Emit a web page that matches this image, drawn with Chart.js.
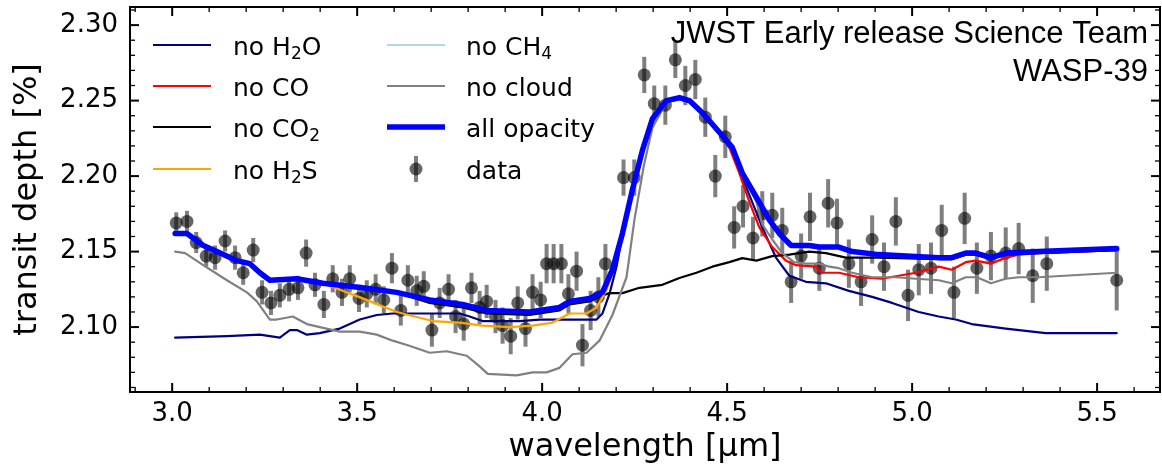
<!DOCTYPE html>
<html>
<head>
<meta charset="utf-8">
<script src="https://cdn.jsdelivr.net/npm/chart.js@4.4.0/dist/chart.umd.min.js"></script>
<style>
  html, body { margin: 0; padding: 0; background: #fff; overflow: hidden; }
  canvas { display: block; }
</style>
</head>
<body>
<canvas id="spec" width="1162" height="472"></canvas>
<script>
// ticks
var xTicks = [3.0, 3.5, 4.0, 4.5, 5.0, 5.5];
var yTicks = [2.10, 2.15, 2.20, 2.25, 2.30];

// observed spectrum
var dataWave = [3.011, 3.040, 3.065, 3.092, 3.116, 3.143, 3.170, 3.192, 3.219, 3.243,
  3.267, 3.291, 3.316, 3.340, 3.362, 3.386, 3.410, 3.434, 3.459, 3.480,
  3.505, 3.526, 3.550, 3.572, 3.594, 3.618, 3.637, 3.661, 3.680, 3.702,
  3.723, 3.747, 3.766, 3.788, 3.809, 3.831, 3.850, 3.874, 3.893, 3.915,
  3.934, 3.955, 3.974, 3.996, 4.012, 4.031, 4.052, 4.071, 4.093, 4.109,
  4.131, 4.152, 4.171, 4.220, 4.249, 4.276, 4.303, 4.333, 4.360, 4.387,
  4.414, 4.441, 4.468, 4.495, 4.519, 4.543, 4.570, 4.595, 4.622, 4.649,
  4.673, 4.700, 4.724, 4.749, 4.773, 4.797, 4.829, 4.862, 4.892, 4.924,
  4.956, 4.989, 5.018, 5.051, 5.080, 5.113, 5.142, 5.175, 5.213, 5.253,
  5.288, 5.326, 5.364, 5.553];
var dataDepth = [2.169, 2.170, 2.156, 2.147, 2.146, 2.157, 2.146, 2.136, 2.151, 2.123,
  2.116, 2.121, 2.125, 2.126, 2.149, 2.128, 2.115, 2.132, 2.123, 2.132,
  2.119, 2.122, 2.125, 2.118, 2.139, 2.111, 2.131, 2.124, 2.127, 2.098,
  2.116, 2.125, 2.107, 2.102, 2.126, 2.113, 2.117, 2.107, 2.101, 2.094,
  2.116, 2.099, 2.123, 2.118, 2.142, 2.142, 2.142, 2.122, 2.137, 2.088,
  2.111, 2.120, 2.142, 2.199, 2.199, 2.267, 2.248, 2.247, 2.277, 2.260,
  2.264, 2.239, 2.200, 2.226, 2.166, 2.180, 2.159, 2.175, 2.174, 2.164,
  2.130, 2.147, 2.173, 2.139, 2.182, 2.169, 2.142, 2.130, 2.158, 2.140,
  2.170, 2.121, 2.138, 2.139, 2.164, 2.123, 2.172, 2.139, 2.147, 2.149,
  2.152, 2.134, 2.142, 2.131];
var dataErr = [0.007, 0.007, 0.007, 0.007, 0.008, 0.007, 0.008, 0.008, 0.008, 0.008,
  0.008, 0.008, 0.008, 0.008, 0.009, 0.008, 0.009, 0.009, 0.009, 0.009,
  0.009, 0.009, 0.010, 0.009, 0.010, 0.010, 0.010, 0.010, 0.010, 0.011,
  0.010, 0.010, 0.011, 0.011, 0.010, 0.011, 0.011, 0.011, 0.012, 0.012,
  0.011, 0.012, 0.012, 0.012, 0.013, 0.013, 0.013, 0.013, 0.013, 0.014,
  0.013, 0.013, 0.013, 0.012, 0.012, 0.012, 0.012, 0.013, 0.012, 0.013,
  0.013, 0.013, 0.014, 0.014, 0.014, 0.014, 0.014, 0.015, 0.015, 0.015,
  0.014, 0.015, 0.016, 0.015, 0.016, 0.016, 0.016, 0.016, 0.016, 0.016,
  0.016, 0.017, 0.017, 0.017, 0.017, 0.017, 0.017, 0.017, 0.016, 0.017,
  0.017, 0.018, 0.018, 0.020];

// models: [wavelength, transit depth]
var allOpacity = [[3.008, 2.162], [3.040, 2.162], [3.084, 2.154], [3.121, 2.150], [3.175, 2.144],
  [3.210, 2.142], [3.237, 2.136], [3.264, 2.131], [3.337, 2.132], [3.407, 2.129],
  [3.515, 2.126], [3.607, 2.123], [3.696, 2.118], [3.785, 2.115], [3.850, 2.111],
  [3.966, 2.110], [4.047, 2.113], [4.074, 2.117], [4.128, 2.119], [4.163, 2.123],
  [4.190, 2.138], [4.217, 2.162], [4.244, 2.191], [4.271, 2.217], [4.298, 2.238],
  [4.336, 2.250], [4.371, 2.252], [4.398, 2.250], [4.433, 2.242], [4.479, 2.229],
  [4.514, 2.219], [4.541, 2.202], [4.579, 2.186], [4.614, 2.171], [4.641, 2.162],
  [4.673, 2.154], [4.722, 2.154], [4.749, 2.153], [4.802, 2.153], [4.838, 2.150],
  [4.910, 2.148], [5.072, 2.146], [5.107, 2.146], [5.145, 2.149], [5.172, 2.149],
  [5.213, 2.146], [5.253, 2.149], [5.342, 2.150], [5.553, 2.152]];

var noH2O = [[3.008, 2.093], [3.148, 2.094], [3.237, 2.095], [3.291, 2.093], [3.318, 2.098],
  [3.337, 2.098], [3.364, 2.095], [3.399, 2.096], [3.453, 2.099], [3.507, 2.105],
  [3.553, 2.108], [3.596, 2.109], [3.661, 2.109], [3.777, 2.109], [3.804, 2.107],
  [3.839, 2.104], [3.939, 2.104], [3.993, 2.105], [4.147, 2.105], [4.163, 2.109],
  [4.182, 2.122], [4.201, 2.140], [4.217, 2.161], [4.244, 2.189], [4.271, 2.216],
  [4.298, 2.237], [4.336, 2.249], [4.371, 2.251], [4.398, 2.249], [4.433, 2.241],
  [4.479, 2.228], [4.514, 2.216], [4.541, 2.199], [4.579, 2.176], [4.595, 2.166],
  [4.632, 2.146], [4.668, 2.134], [4.713, 2.130], [4.767, 2.129], [4.829, 2.124],
  [4.892, 2.120], [4.946, 2.116], [5.018, 2.110], [5.072, 2.107], [5.118, 2.105],
  [5.161, 2.102], [5.253, 2.099], [5.361, 2.096], [5.553, 2.096]];

// no CO follows all-opacity up to 4.48 um
var noCOTail = [[4.498, 2.224], [4.533, 2.202], [4.560, 2.183], [4.587, 2.166], [4.622, 2.153],
  [4.659, 2.144], [4.686, 2.141], [4.740, 2.140], [4.754, 2.136], [4.802, 2.136],
  [4.856, 2.133], [4.918, 2.132], [4.964, 2.134], [5.010, 2.136], [5.072, 2.140],
  [5.107, 2.138], [5.145, 2.143], [5.172, 2.144], [5.213, 2.142], [5.253, 2.146],
  [5.288, 2.148], [5.342, 2.149], [5.553, 2.151]];

// no CO2 follows all-opacity up to 3.6 um
var noCO2Tail = [[3.696, 2.116], [3.785, 2.113], [3.850, 2.109], [3.966, 2.108], [4.047, 2.111],
  [4.074, 2.115], [4.128, 2.117], [4.163, 2.121], [4.182, 2.1225], [4.217, 2.1225],
  [4.263, 2.126], [4.325, 2.128], [4.371, 2.1325], [4.417, 2.136], [4.460, 2.140],
  [4.506, 2.143], [4.541, 2.1457], [4.579, 2.144], [4.622, 2.147], [4.668, 2.148],
  [4.722, 2.150], [4.767, 2.149], [4.821, 2.146], [4.910, 2.146], [5.072, 2.145],
  [5.107, 2.145], [5.145, 2.148], [5.172, 2.148], [5.213, 2.145], [5.253, 2.148],
  [5.342, 2.149], [5.553, 2.151]];

// no H2S departs from all-opacity between 3.4 and 4.22 um
var noH2SMid = [[3.515, 2.119], [3.607, 2.110], [3.704, 2.104], [3.777, 2.103], [3.839, 2.101],
  [3.912, 2.100], [3.974, 2.101], [4.028, 2.103], [4.074, 2.109], [4.120, 2.109],
  [4.147, 2.113], [4.174, 2.1245], [4.190, 2.136], [4.217, 2.158]];

var noCloud = [[3.008, 2.150], [3.035, 2.149], [3.084, 2.141], [3.148, 2.131], [3.202, 2.123],
  [3.229, 2.117], [3.264, 2.105], [3.283, 2.105], [3.326, 2.107], [3.364, 2.102],
  [3.399, 2.100], [3.453, 2.097], [3.507, 2.097], [3.553, 2.095], [3.596, 2.091],
  [3.637, 2.088], [3.696, 2.083], [3.742, 2.084], [3.796, 2.081], [3.831, 2.074],
  [3.853, 2.069], [3.931, 2.068], [3.974, 2.070], [4.012, 2.070], [4.047, 2.073],
  [4.082, 2.082], [4.120, 2.083], [4.155, 2.091], [4.190, 2.108], [4.228, 2.133],
  [4.250, 2.172], [4.275, 2.207], [4.298, 2.232], [4.336, 2.249], [4.371, 2.251],
  [4.398, 2.249], [4.433, 2.241], [4.479, 2.228], [4.514, 2.217], [4.541, 2.201],
  [4.579, 2.183], [4.595, 2.168], [4.622, 2.158], [4.649, 2.149], [4.681, 2.143],
  [4.713, 2.142], [4.749, 2.142], [4.776, 2.140], [4.802, 2.139], [4.838, 2.136],
  [4.892, 2.133], [4.956, 2.133], [5.010, 2.132], [5.072, 2.131], [5.107, 2.129],
  [5.145, 2.133], [5.175, 2.133], [5.213, 2.129], [5.253, 2.132], [5.288, 2.133],
  [5.342, 2.133], [5.553, 2.136]];

var noCO = allOpacity.slice(0, 30).concat(noCOTail);
var noCO2 = allOpacity.slice(0, 12).concat(noCO2Tail);
var noH2S = allOpacity.slice(0, 10).concat(noH2SMid, allOpacity.slice(22));
var noCH4 = allOpacity;

function pts(arr) {
  return arr.map(function(p) { return { x: p[0], y: p[1] }; });
}

function lineSet(label, arr, color, width) {
  return {
    label: label,
    data: pts(arr),
    showLine: true,
    borderColor: color,
    backgroundColor: color,
    borderWidth: width,
    pointRadius: 0,
    borderJoinStyle: "round",
    borderCapStyle: "round",
    tension: 0
  };
}

var legendRows = [
  { text: "no H_2O", color: "#000080", width: 2.2, col: 0, row: 0 },
  { text: "no CO", color: "#ff0000", width: 2.2, col: 0, row: 1 },
  { text: "no CO_2", color: "#000000", width: 2.2, col: 0, row: 2 },
  { text: "no H_2S", color: "#ffa500", width: 2.2, col: 0, row: 3 },
  { text: "no CH_4", color: "#add8e6", width: 2.2, col: 1, row: 0 },
  { text: "no cloud", color: "#808080", width: 2.2, col: 1, row: 1 },
  { text: "all opacity", color: "#0000ff", width: 5.5, col: 1, row: 2 },
  { text: "data", color: null, width: 0, col: 1, row: 3 }
];

var barColor = "rgba(0,0,0,0.5)";
var dotColor = "rgba(0,0,0,0.6)";

function line(ctx, x1, y1, x2, y2) {
  ctx.beginPath();
  ctx.moveTo(x1, y1);
  ctx.lineTo(x2, y2);
  ctx.stroke();
}

function drawLabel(ctx, str, x, y) {
  // "_" marks a one-character subscript
  var cx = x;
  for (var i = 0; i < str.length; i++) {
    var ch = str[i];
    if (ch === "_") {
      i++;
      ctx.font = "17px 'DejaVu Sans'";
      ctx.fillText(str[i], cx, y + 4);
      cx += ctx.measureText(str[i]).width;
    } else {
      ctx.font = "25px 'DejaVu Sans'";
      ctx.fillText(ch, cx, y);
      cx += ctx.measureText(ch).width;
    }
  }
}

var decor = {
  id: "decor",
  beforeDatasetsDraw: function(chart) {
    var ctx = chart.ctx, x = chart.scales.x, y = chart.scales.y;
    ctx.save();
    ctx.strokeStyle = barColor;
    ctx.lineWidth = 4;
    for (var i = 0; i < dataWave.length; i++) {
      var px = x.getPixelForValue(dataWave[i]);
      line(ctx, px, y.getPixelForValue(dataDepth[i] - dataErr[i]),
        px, y.getPixelForValue(dataDepth[i] + dataErr[i]));
    }
    ctx.restore();
  },
  afterDraw: function(chart) {
    var ctx = chart.ctx, a = chart.chartArea, x = chart.scales.x, y = chart.scales.y;
    var k, px, major, len;
    ctx.save();
    ctx.strokeStyle = "#000";
    // inward ticks on all four sides
    for (k = 29; k <= 56; k++) {
      px = x.getPixelForValue(k / 10);
      major = k % 5 === 0;
      len = major ? 9 : 5;
      ctx.lineWidth = major ? 2 : 1.3;
      line(ctx, px, a.bottom, px, a.bottom - len);
      line(ctx, px, a.top, px, a.top + len);
    }
    for (k = 206; k <= 231; k++) {
      px = y.getPixelForValue(k / 100);
      major = k % 5 === 0;
      len = major ? 9 : 5;
      ctx.lineWidth = major ? 2 : 1.3;
      line(ctx, a.left, px, a.left + len, px);
      line(ctx, a.right, px, a.right - len, px);
    }
    ctx.lineWidth = 2;
    ctx.strokeRect(a.left, a.top, a.right - a.left, a.bottom - a.top);

    // legend
    var rowY = [45, 86, 127, 169];
    var lineX = [153, 387];
    var textX = [233, 466];
    ctx.fillStyle = "#000";
    ctx.textBaseline = "alphabetic";
    ctx.textAlign = "left";
    legendRows.forEach(function(r) {
      var ly = rowY[r.row], lx = lineX[r.col];
      if (r.color) {
        ctx.strokeStyle = r.color;
        ctx.lineWidth = r.width;
        line(ctx, lx, ly, lx + 58, ly);
      } else {
        ctx.strokeStyle = barColor;
        ctx.lineWidth = 4;
        line(ctx, lx + 29, ly - 13, lx + 29, ly + 13);
        ctx.fillStyle = dotColor;
        ctx.beginPath();
        ctx.arc(lx + 29, ly, 6.5, 0, Math.PI * 2);
        ctx.fill();
        ctx.fillStyle = "#000";
      }
      drawLabel(ctx, r.text, textX[r.col], ly + 10);
    });

    // annotation
    ctx.font = "31px 'Liberation Sans', Arial, sans-serif";
    ctx.textAlign = "right";
    ctx.fillText("JWST Early release Science Team", 1148, 43);
    ctx.fillText("WASP-39", 1148, 81);
    ctx.restore();
  }
};

var ctx = document.getElementById("spec").getContext("2d");
var chart = new Chart(ctx, {
  type: "scatter",
  data: {
    datasets: [
      lineSet("all opacity", allOpacity, "#0000ff", 5.5),
      lineSet("no cloud", noCloud, "#808080", 2.2),
      lineSet("no CH4", noCH4, "#add8e6", 2.2),
      lineSet("no H2S", noH2S, "#ffa500", 2.2),
      lineSet("no CO2", noCO2, "#000000", 2.2),
      lineSet("no CO", noCO, "#ff0000", 2.2),
      lineSet("no H2O", noH2O, "#000080", 2.2),
      {
        label: "data",
        data: dataWave.map(function(w, i) { return { x: w, y: dataDepth[i] }; }),
        showLine: false,
        pointRadius: 6.5,
        pointBackgroundColor: dotColor,
        pointBorderWidth: 0
      }
    ]
  },
  options: {
    responsive: false,
    animation: false,
    layout: { autoPadding: false, padding: { top: 7, right: 2, left: 0, bottom: 0 } },
    plugins: {
      legend: { display: false },
      tooltip: { enabled: false }
    },
    scales: {
      x: {
        type: "linear",
        min: 2.886,
        max: 5.67,
        afterFit: function(s) { s.height = 80; s.paddingLeft = 0; s.paddingRight = 0; },
        afterBuildTicks: function(s) { s.ticks = xTicks.map(function(v) { return { value: v }; }); },
        grid: { display: false, drawTicks: false },
        border: { display: false },
        ticks: {
          color: "#000",
          padding: 7,
          maxRotation: 0,
          autoSkip: false,
          font: { family: "DejaVu Sans", size: 26 },
          callback: function(v) { return Number(v).toFixed(1); }
        },
        title: {
          display: true,
          text: "wavelength [μm]",
          color: "#000",
          font: { family: "DejaVu Sans", size: 32 },
          padding: { top: 0, bottom: 5 }
        }
      },
      y: {
        type: "linear",
        min: 2.057,
        max: 2.312,
        afterFit: function(s) { s.width = 130; s.paddingTop = 0; s.paddingBottom = 0; },
        afterBuildTicks: function(s) { s.ticks = yTicks.map(function(v) { return { value: v }; }); },
        grid: { display: false, drawTicks: false },
        border: { display: false },
        ticks: {
          color: "#000",
          padding: 12,
          autoSkip: false,
          font: { family: "DejaVu Sans", size: 26 },
          callback: function(v) { return Number(v).toFixed(2); }
        },
        title: {
          display: true,
          text: "transit depth [%]",
          color: "#000",
          font: { family: "DejaVu Sans", size: 32 },
          padding: { top: 8, bottom: 0 }
        }
      }
    }
  },
  plugins: [decor]
});
</script>
</body>
</html>
